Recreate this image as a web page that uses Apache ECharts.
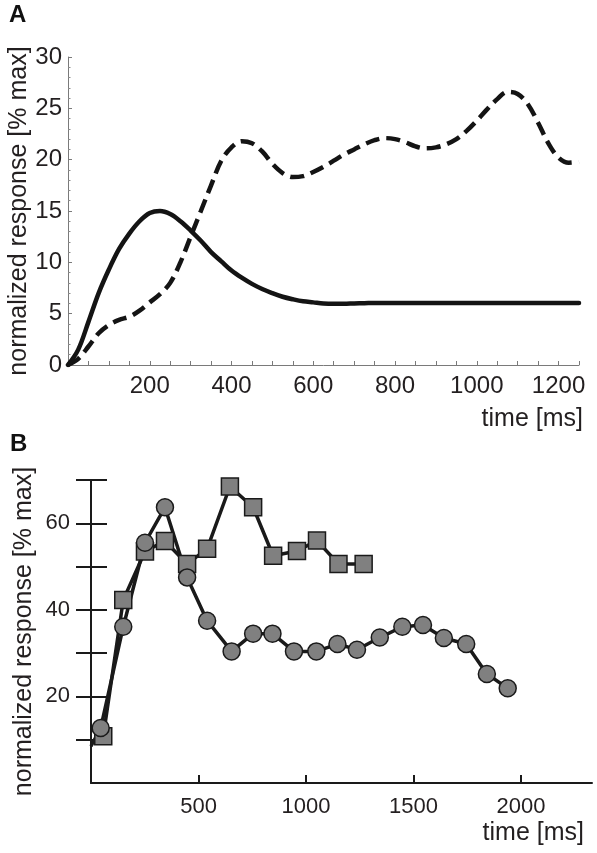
<!DOCTYPE html>
<html>
<head>
<meta charset="utf-8">
<style>
  html, body { margin: 0; padding: 0; background: #ffffff; }
  #chart { width: 597px; height: 853px; }
</style>
<script src="https://cdn.jsdelivr.net/npm/echarts@6/dist/echarts.min.js"></script>
</head>
<body>
<div id="chart"></div>
<script>
// ---------- Panel A data (model curves) ----------
const timeA = [0,25,50,75,100,125,150,175,200,225,250,275,300,325,350,375,400,425,450,475,500,525,550,575,600,625,650,675,700,725,750,775,800,825,850,875,900,925,950,975,1000,1025,1050,1075,1100,1125,1150,1175,1200,1225,1250];
const solidA = [0,1.5,4.2,7.0,9.3,11.3,12.8,14.0,14.8,15.0,14.7,14.0,13.1,12.1,11.0,10.1,9.2,8.5,7.9,7.4,7.0,6.65,6.4,6.2,6.1,6.0,5.97,5.97,6.0,6.02,6.05,6.05,6.05,6.05,6.05,6.05,6.05,6.05,6.05,6.05,6.05,6.05,6.05,6.05,6.05,6.05,6.05,6.05,6.05,6.05,6.05];
const dashedA = [0,0.6,1.8,3.1,3.9,4.4,4.7,5.3,6.1,6.9,8.0,10.0,12.5,15.0,17.5,19.9,21.2,21.8,21.6,20.8,19.6,18.7,18.3,18.4,18.8,19.3,19.9,20.5,21.0,21.5,21.9,22.1,22.0,21.7,21.3,21.1,21.2,21.5,22.0,22.8,23.8,24.9,25.9,26.6,26.4,25.4,23.6,21.6,20.2,19.7,19.8];
const xTicksA = [200,400,600,800,1000,1200];
const yTicksA = [0,5,10,15,20,25,30];

// ---------- Panel B data (measured responses) ----------
const squareTimes = [57,150,251,344,447,540,646,754,847,958,1051,1151,1268];
const squareValues = [10.8,42.3,53.5,55.9,50.6,54.1,68.5,63.7,52.5,53.6,56.0,50.6,50.6];
const circleTimes = [0,45,150,251,344,447,540,654,754,844,944,1048,1146,1237,1343,1448,1544,1641,1745,1841,1938];
const circleValues = [8.5,12.7,36.1,55.5,63.7,47.5,37.5,30.4,34.5,34.5,30.4,30.4,32.1,30.8,33.6,36.1,36.5,33.5,32.1,25.2,21.9];
const xTicksB = [500,1000,1500,2000];
const yTickMarksB = [10,20,30,40,50,60,70];
const yLabelsB = [20,40,60];

const FONT = '"Liberation Sans", Arial, Helvetica, sans-serif';
const TXT = '#231f20';
const plain = v => String(v);

const chart = echarts.init(document.getElementById('chart'), null, { renderer: 'canvas' });

const xMinorA = [];
for (let t = 50; t <= 1250; t += 50) xMinorA.push(t);

const option = {
  backgroundColor: '#ffffff',
  animation: false,
  grid: [
    { left: 68, right: 18, top: 57, bottom: 488, containLabel: false, outerBoundsMode: 'none' },
    { left: 91, right: 5, top: 480, bottom: 70, containLabel: false, outerBoundsMode: 'none' }
  ],
  graphic: [
    { type: 'text', left: 9, top: 3, style: { text: 'A', font: 'bold 24px ' + FONT, fill: '#111' } },
    { type: 'text', left: 10, top: 432, style: { text: 'B', font: 'bold 24px ' + FONT, fill: '#111' } }
  ],
  xAxis: [
    {
      type: 'value', gridIndex: 0, min: 0, max: 1250, interval: 200,
      axisLine: { show: true, onZero: false, lineStyle: { color: '#7a7a7a', width: 1 } },
      axisTick: { show: true, inside: true, length: 4, customValues: xMinorA, lineStyle: { color: '#7a7a7a', width: 1 } },
      axisLabel: { show: true, customValues: xTicksA, formatter: plain, margin: 9, fontSize: 24, color: TXT, fontFamily: FONT },
      splitLine: { show: false },
      name: 'time [ms]', nameLocation: 'end', nameGap: 4, nameMoveOverlap: false,
      nameTextStyle: { fontSize: 25, color: TXT, fontFamily: FONT, align: 'right', verticalAlign: 'top', padding: [42, 0, 0, 0] }
    },
    {
      type: 'value', gridIndex: 1, min: 0, max: 2330,
      axisLine: { show: true, onZero: false, lineStyle: { color: '#1a1a1a', width: 2 } },
      axisTick: { show: true, inside: true, length: 8, customValues: xTicksB, lineStyle: { color: '#1a1a1a', width: 2 } },
      axisLabel: { show: true, customValues: xTicksB, formatter: plain, margin: 13, fontSize: 22, color: TXT, fontFamily: FONT },
      splitLine: { show: false },
      name: 'time [ms]', nameLocation: 'end', nameGap: -8, nameMoveOverlap: false,
      nameTextStyle: { fontSize: 25, color: TXT, fontFamily: FONT, align: 'right', verticalAlign: 'top', padding: [38, 0, 0, 0] }
    }
  ],
  yAxis: [
    {
      type: 'value', gridIndex: 0, min: 0, max: 30, interval: 5,
      axisLine: { show: true, onZero: false, lineStyle: { color: '#7a7a7a', width: 1 } },
      axisTick: { show: true, inside: true, length: 4, lineStyle: { color: '#7a7a7a', width: 1 } },
      minorTick: { show: true, splitNumber: 5, length: 2.5, lineStyle: { color: '#8a8a8a', width: 1 } },
      axisLabel: { show: true, customValues: yTicksA, formatter: plain, margin: 6, fontSize: 24, color: TXT, fontFamily: FONT },
      splitLine: { show: false },
      name: 'normalized response [% max]', nameLocation: 'middle', nameGap: 36, nameMoveOverlap: false,
      nameTextStyle: { fontSize: 25, color: TXT, fontFamily: FONT }
    },
    {
      type: 'value', gridIndex: 1, min: 0, max: 70, position: 'left',
      axisLine: { show: true, onZero: false, lineStyle: { color: '#1a1a1a', width: 2 } },
      axisTick: { show: true, inside: false, length: 15, customValues: yTickMarksB, lineStyle: { color: '#1a1a1a', width: 2 } },
      axisLabel: { show: true, customValues: yLabelsB, formatter: plain, margin: 21, fontSize: 22, color: TXT, fontFamily: FONT },
      splitLine: { show: false },
      name: 'normalized response [% max]', nameLocation: 'middle', nameGap: 54, nameMoveOverlap: false,
      nameTextStyle: { fontSize: 25, color: TXT, fontFamily: FONT }
    },
    {
      type: 'value', gridIndex: 1, min: 0, max: 70, position: 'left', offset: 0,
      axisLine: { show: false, onZero: false },
      axisTick: { show: true, inside: true, length: 16, customValues: yTickMarksB, lineStyle: { color: '#1a1a1a', width: 2 } },
      axisLabel: { show: false },
      splitLine: { show: false }
    }
  ],
  series: [
    {
      type: 'line', xAxisIndex: 0, yAxisIndex: 0, smooth: 0.35, symbol: 'none',
      data: timeA.map((t, i) => [t, solidA[i]]),
      lineStyle: { color: '#141414', width: 4.5, cap: 'round' }
    },
    {
      type: 'line', xAxisIndex: 0, yAxisIndex: 0, smooth: 0.35, symbol: 'none',
      data: timeA.map((t, i) => [t, dashedA[i]]),
      lineStyle: { color: '#141414', width: 4.5, type: [14, 7] }
    },
    {
      type: 'line', xAxisIndex: 1, yAxisIndex: 1, smooth: false,
      symbol: 'rect', symbolSize: 17,
      data: squareTimes.map((t, i) => [t, squareValues[i]]),
      lineStyle: { color: '#1a1a1a', width: 3.5 },
      itemStyle: { color: '#808080', borderColor: '#1a1a1a', borderWidth: 1.5 }
    },
    {
      type: 'line', xAxisIndex: 1, yAxisIndex: 1, smooth: false,
      symbol: 'circle', symbolSize: 17,
      data: circleTimes.map((t, i) => i === 0 ? { value: [t, circleValues[i]], symbol: 'none' } : [t, circleValues[i]]),
      lineStyle: { color: '#1a1a1a', width: 3.5 },
      itemStyle: { color: '#808080', borderColor: '#1a1a1a', borderWidth: 1.5 }
    }
  ]
};

chart.setOption(option);
</script>
</body>
</html>
